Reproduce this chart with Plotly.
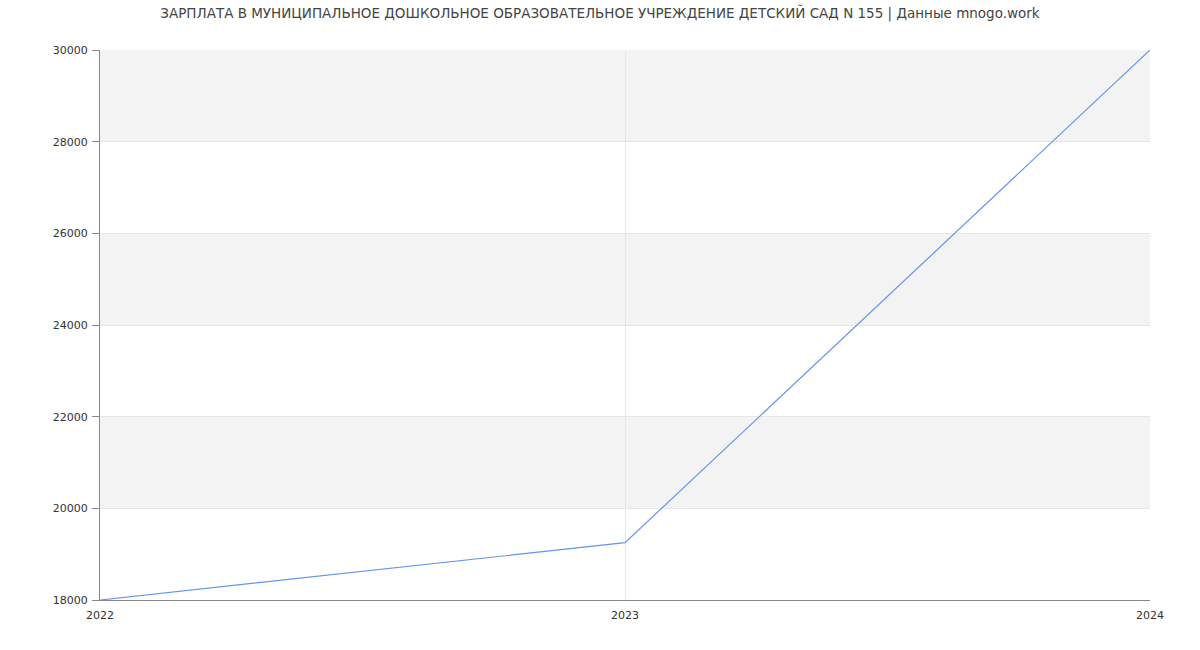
import plotly.graph_objects as go

years = [2022, 2023, 2024]
salary = [18000, 19250, 30000]
y_ticks = [18000, 20000, 22000, 24000, 26000, 28000, 30000]
shaded_bands = [(20000, 22000), (24000, 26000), (28000, 30000)]
title = "ЗАРПЛАТА В МУНИЦИПАЛЬНОЕ ДОШКОЛЬНОЕ ОБРАЗОВАТЕЛЬНОЕ УЧРЕЖДЕНИЕ ДЕТСКИЙ САД N 155 | Данные mnogo.work"

fig = go.Figure()
fig.add_trace(go.Scatter(x=years, y=salary, mode="lines",
                         line=dict(color="#6495ED", width=1.2),
                         hoverinfo="x+y", showlegend=False))

shapes = []
for lo, hi in shaded_bands:
    shapes.append(dict(type="rect", xref="paper", yref="y", x0=0, x1=1, y0=lo, y1=hi,
                       fillcolor="#f3f3f3", line=dict(width=0), layer="below"))

fig.update_layout(
    width=1200, height=650,
    margin=dict(l=100, r=50, t=50, b=50),
    paper_bgcolor="white", plot_bgcolor="white",
    font=dict(family="DejaVu Sans", size=11, color="#333"),
    title=dict(text=title, x=0.5, xanchor="center", y=0.98, yanchor="middle",
               font=dict(family="DejaVu Sans", size=13.5, color="#444")),
    shapes=shapes,
    xaxis=dict(range=[2022, 2024], tickvals=years, ticktext=[str(y) for y in years],
               showgrid=True, gridcolor="#e6e6e6", gridwidth=1,
               showline=True, linecolor="#888", linewidth=1,
               ticks="", ticklabelstandoff=5, zeroline=False, fixedrange=True),
    yaxis=dict(range=[18000, 30000], tickvals=y_ticks,
               ticktext=[str(v) for v in y_ticks],
               showgrid=True, gridcolor="#e6e6e6", gridwidth=1,
               showline=True, linecolor="#888", linewidth=1,
               ticks="outside", ticklen=7, tickcolor="#888", ticklabelstandoff=2,
               zeroline=False, fixedrange=True),
)

fig.write_html("out.html")
